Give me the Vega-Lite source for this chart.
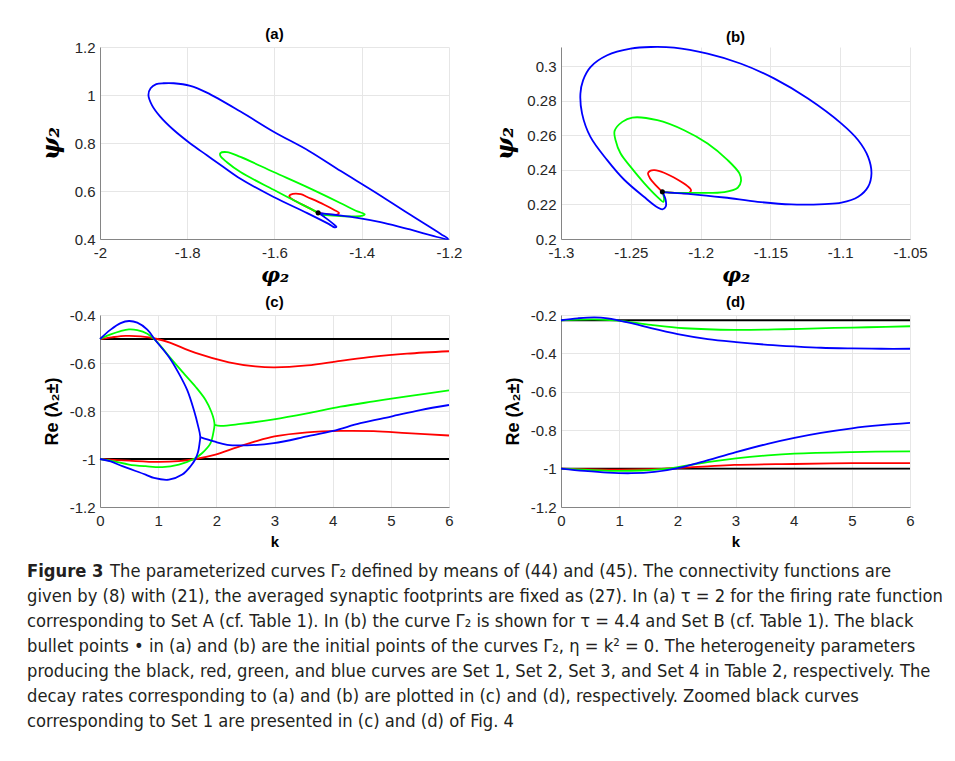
{
"$schema": "https://vega.github.io/schema/vega-lite/v6.json",
"background": "white",
"padding": {"left": 27, "top": 27, "right": 5, "bottom": 5},
"config": {
  "view": {"stroke": null},
  "font": "Liberation Sans",
  "title": {"font": "Liberation Sans", "fontSize": 15, "fontWeight": "bold", "color": "#000000", "offset": -2},
  "axis": {"grid": true, "gridColor": "#e6e6e6", "gridWidth": 1, "domainColor": "#858585", "domainWidth": 1, "ticks": false, "tickCount": 12, "labelFont": "Liberation Sans", "labelFontSize": 15, "labelColor": "#262626", "labelFlush": false, "labelOverlap": false, "titleColor": "#000000"},
  "axisX": {"labelPadding": 6},
  "axisY": {"labelPadding": 5},
  "line": {"strokeWidth": 1.8, "interpolate": "catmull-rom"}
},
"datasets": {
  "a": [
    {"s":"red","g":"r","i":0,"x":-1.500,"y":0.509},{"s":"red","g":"r","i":1,"x":-1.525,"y":0.533},{"s":"red","g":"r","i":2,"x":-1.548,"y":0.554},{"s":"red","g":"r","i":3,"x":-1.563,"y":0.570},{"s":"red","g":"r","i":4,"x":-1.566,"y":0.580},{"s":"red","g":"r","i":5,"x":-1.558,"y":0.588},{"s":"red","g":"r","i":6,"x":-1.540,"y":0.587},{"s":"red","g":"r","i":7,"x":-1.525,"y":0.575},{"s":"red","g":"r","i":8,"x":-1.487,"y":0.544},{"s":"red","g":"r","i":9,"x":-1.464,"y":0.522},{"s":"red","g":"r","i":10,"x":-1.452,"y":0.508},{"s":"red","g":"r","i":11,"x":-1.458,"y":0.501},{"s":"red","g":"r","i":12,"x":-1.487,"y":0.505},{"s":"red","g":"r","i":13,"x":-1.500,"y":0.509},
    {"s":"green","g":"gr","i":0,"x":-1.500,"y":0.509},{"s":"green","g":"gr","i":1,"x":-1.487,"y":0.502},{"s":"green","g":"gr","i":2,"x":-1.456,"y":0.496},{"s":"green","g":"gr","i":3,"x":-1.418,"y":0.494},{"s":"green","g":"gr","i":4,"x":-1.398,"y":0.497},{"s":"green","g":"gr","i":5,"x":-1.393,"y":0.503},{"s":"green","g":"gr","i":6,"x":-1.410,"y":0.515},{"s":"green","g":"gr","i":7,"x":-1.448,"y":0.549},{"s":"green","g":"gr","i":8,"x":-1.525,"y":0.616},{"s":"green","g":"gr","i":9,"x":-1.602,"y":0.679},{"s":"green","g":"gr","i":10,"x":-1.678,"y":0.742},{"s":"green","g":"gr","i":11,"x":-1.709,"y":0.762},{"s":"green","g":"gr","i":12,"x":-1.724,"y":0.758},{"s":"green","g":"gr","i":13,"x":-1.724,"y":0.746},{"s":"green","g":"gr","i":14,"x":-1.709,"y":0.720},{"s":"green","g":"gr","i":15,"x":-1.678,"y":0.679},{"s":"green","g":"gr","i":16,"x":-1.602,"y":0.605},{"s":"green","g":"gr","i":17,"x":-1.525,"y":0.533},{"s":"green","g":"gr","i":18,"x":-1.496,"y":0.506},{"s":"green","g":"gr","i":19,"x":-1.484,"y":0.496},
    {"s":"blue","g":"b","i":0,"x":-1.500,"y":0.509},{"s":"blue","g":"b","i":1,"x":-1.483,"y":0.488},{"s":"blue","g":"b","i":2,"x":-1.468,"y":0.467},{"s":"blue","g":"b","i":3,"x":-1.458,"y":0.451},{"s":"blue","g":"b","i":4,"x":-1.463,"y":0.449},{"s":"blue","g":"b","i":5,"x":-1.475,"y":0.462},{"s":"blue","g":"b","i":6,"x":-1.525,"y":0.508},{"s":"blue","g":"b","i":7,"x":-1.602,"y":0.575},{"s":"blue","g":"b","i":8,"x":-1.678,"y":0.651},{"s":"blue","g":"b","i":9,"x":-1.717,"y":0.700},{"s":"blue","g":"b","i":10,"x":-1.755,"y":0.749},{"s":"blue","g":"b","i":11,"x":-1.793,"y":0.798},{"s":"blue","g":"b","i":12,"x":-1.831,"y":0.854},{"s":"blue","g":"b","i":13,"x":-1.862,"y":0.910},{"s":"blue","g":"b","i":14,"x":-1.881,"y":0.958},{"s":"blue","g":"b","i":15,"x":-1.889,"y":1.000},{"s":"blue","g":"b","i":16,"x":-1.884,"y":1.028},{"s":"blue","g":"b","i":17,"x":-1.871,"y":1.045},{"s":"blue","g":"b","i":18,"x":-1.854,"y":1.049},{"s":"blue","g":"b","i":19,"x":-1.831,"y":1.049},{"s":"blue","g":"b","i":20,"x":-1.793,"y":1.038},{"s":"blue","g":"b","i":21,"x":-1.755,"y":1.010},{"s":"blue","g":"b","i":22,"x":-1.678,"y":0.931},{"s":"blue","g":"b","i":23,"x":-1.602,"y":0.847},{"s":"blue","g":"b","i":24,"x":-1.521,"y":0.767},{"s":"blue","g":"b","i":25,"x":-1.448,"y":0.683},{"s":"blue","g":"b","i":26,"x":-1.372,"y":0.598},{"s":"blue","g":"b","i":27,"x":-1.295,"y":0.508},{"s":"blue","g":"b","i":28,"x":-1.219,"y":0.421},{"s":"blue","g":"b","i":29,"x":-1.202,"y":0.400},{"s":"blue","g":"b","i":30,"x":-1.295,"y":0.442},{"s":"blue","g":"b","i":31,"x":-1.357,"y":0.470},{"s":"blue","g":"b","i":32,"x":-1.410,"y":0.488},{"s":"blue","g":"b","i":33,"x":-1.464,"y":0.501},{"s":"blue","g":"b","i":34,"x":-1.500,"y":0.509}
  ],
  "b": [
    {"s":"red","g":"r","i":0,"x":-1.2274,"y":0.2273},{"s":"red","g":"r","i":1,"x":-1.2322,"y":0.2312},{"s":"red","g":"r","i":2,"x":-1.2362,"y":0.2350},{"s":"red","g":"r","i":3,"x":-1.2377,"y":0.2379},{"s":"red","g":"r","i":4,"x":-1.2362,"y":0.2394},{"s":"red","g":"r","i":5,"x":-1.2329,"y":0.2398},{"s":"red","g":"r","i":6,"x":-1.2262,"y":0.2383},{"s":"red","g":"r","i":7,"x":-1.2166,"y":0.2344},{"s":"red","g":"r","i":8,"x":-1.2094,"y":0.2306},{"s":"red","g":"r","i":9,"x":-1.2068,"y":0.2283},{"s":"red","g":"r","i":10,"x":-1.2082,"y":0.2267},{"s":"red","g":"r","i":11,"x":-1.2166,"y":0.2267},{"s":"red","g":"r","i":12,"x":-1.2274,"y":0.2273},
    {"s":"green","g":"gr","i":0,"x":-1.2274,"y":0.2273},{"s":"green","g":"gr","i":1,"x":-1.2166,"y":0.2267},{"s":"green","g":"gr","i":2,"x":-1.2070,"y":0.2267},{"s":"green","g":"gr","i":3,"x":-1.1830,"y":0.2271},{"s":"green","g":"gr","i":4,"x":-1.1734,"y":0.2296},{"s":"green","g":"gr","i":5,"x":-1.1710,"y":0.2337},{"s":"green","g":"gr","i":6,"x":-1.1722,"y":0.2379},{"s":"green","g":"gr","i":7,"x":-1.1806,"y":0.2456},{"s":"green","g":"gr","i":8,"x":-1.1950,"y":0.2552},{"s":"green","g":"gr","i":9,"x":-1.2118,"y":0.2629},{"s":"green","g":"gr","i":10,"x":-1.2310,"y":0.2687},{"s":"green","g":"gr","i":11,"x":-1.2489,"y":0.2702},{"s":"green","g":"gr","i":12,"x":-1.2561,"y":0.2677},{"s":"green","g":"gr","i":13,"x":-1.2616,"y":0.2625},{"s":"green","g":"gr","i":14,"x":-1.2609,"y":0.2571},{"s":"green","g":"gr","i":15,"x":-1.2573,"y":0.2494},{"s":"green","g":"gr","i":16,"x":-1.2501,"y":0.2417},{"s":"green","g":"gr","i":17,"x":-1.2406,"y":0.2325},{"s":"green","g":"gr","i":18,"x":-1.2310,"y":0.2244},{"s":"green","g":"gr","i":19,"x":-1.2267,"y":0.2215},{"s":"green","g":"gr","i":20,"x":-1.2262,"y":0.2235},{"s":"green","g":"gr","i":21,"x":-1.2274,"y":0.2273},
    {"s":"blue","g":"b","i":0,"x":-1.2274,"y":0.2273},{"s":"blue","g":"b","i":1,"x":-1.2250,"y":0.2225},{"s":"blue","g":"b","i":2,"x":-1.2250,"y":0.2187},{"s":"blue","g":"b","i":3,"x":-1.2274,"y":0.2171},{"s":"blue","g":"b","i":4,"x":-1.2310,"y":0.2183},{"s":"blue","g":"b","i":5,"x":-1.2406,"y":0.2244},{"s":"blue","g":"b","i":6,"x":-1.2549,"y":0.2344},{"s":"blue","g":"b","i":7,"x":-1.2669,"y":0.2456},{"s":"blue","g":"b","i":8,"x":-1.2789,"y":0.2590},{"s":"blue","g":"b","i":9,"x":-1.2849,"y":0.2725},{"s":"blue","g":"b","i":10,"x":-1.2861,"y":0.2840},{"s":"blue","g":"b","i":11,"x":-1.2842,"y":0.2917},{"s":"blue","g":"b","i":12,"x":-1.2789,"y":0.2994},{"s":"blue","g":"b","i":13,"x":-1.2669,"y":0.3062},{"s":"blue","g":"b","i":14,"x":-1.2501,"y":0.3100},{"s":"blue","g":"b","i":15,"x":-1.2358,"y":0.3110},{"s":"blue","g":"b","i":16,"x":-1.2190,"y":0.3106},{"s":"blue","g":"b","i":17,"x":-1.1950,"y":0.3071},{"s":"blue","g":"b","i":18,"x":-1.1710,"y":0.3013},{"s":"blue","g":"b","i":19,"x":-1.1471,"y":0.2927},{"s":"blue","g":"b","i":20,"x":-1.1231,"y":0.2812},{"s":"blue","g":"b","i":21,"x":-1.0991,"y":0.2667},{"s":"blue","g":"b","i":22,"x":-1.0871,"y":0.2571},{"s":"blue","g":"b","i":23,"x":-1.0800,"y":0.2475},{"s":"blue","g":"b","i":24,"x":-1.0776,"y":0.2379},{"s":"blue","g":"b","i":25,"x":-1.0800,"y":0.2302},{"s":"blue","g":"b","i":26,"x":-1.0871,"y":0.2244},{"s":"blue","g":"b","i":27,"x":-1.0991,"y":0.2210},{"s":"blue","g":"b","i":28,"x":-1.1111,"y":0.2202},{"s":"blue","g":"b","i":29,"x":-1.1351,"y":0.2200},{"s":"blue","g":"b","i":30,"x":-1.1591,"y":0.2215},{"s":"blue","g":"b","i":31,"x":-1.1830,"y":0.2240},{"s":"blue","g":"b","i":32,"x":-1.2070,"y":0.2260},{"s":"blue","g":"b","i":33,"x":-1.2238,"y":0.2269},{"s":"blue","g":"b","i":34,"x":-1.2274,"y":0.2273}
  ],
  "c": [
    {"s":"black","g":"k1","i":0,"x":0,"y":-0.5},{"s":"black","g":"k1","i":1,"x":6,"y":-0.5},
    {"s":"black","g":"k2","i":0,"x":0,"y":-1},{"s":"black","g":"k2","i":1,"x":6,"y":-1},
    {"s":"red","g":"r1","i":0,"x":0,"y":-0.5},{"s":"red","g":"r1","i":1,"x":0.2,"y":-0.493},{"s":"red","g":"r1","i":2,"x":0.44,"y":-0.487},{"s":"red","g":"r1","i":3,"x":0.7,"y":-0.489},{"s":"red","g":"r1","i":4,"x":0.985,"y":-0.5},{"s":"red","g":"r1","i":5,"x":1.2,"y":-0.515},{"s":"red","g":"r1","i":6,"x":1.643,"y":-0.558},{"s":"red","g":"r1","i":7,"x":2.216,"y":-0.597},{"s":"red","g":"r1","i":8,"x":2.67,"y":-0.614},{"s":"red","g":"r1","i":9,"x":3.0,"y":-0.618},{"s":"red","g":"r1","i":10,"x":3.561,"y":-0.610},{"s":"red","g":"r1","i":11,"x":4.134,"y":-0.591},{"s":"red","g":"r1","i":12,"x":4.706,"y":-0.573},{"s":"red","g":"r1","i":13,"x":5.278,"y":-0.561},{"s":"red","g":"r1","i":14,"x":6,"y":-0.551},
    {"s":"red","g":"r2","i":0,"x":0,"y":-1},{"s":"red","g":"r2","i":1,"x":0.5,"y":-1.007},{"s":"red","g":"r2","i":2,"x":1.0,"y":-1.012},{"s":"red","g":"r2","i":3,"x":1.35,"y":-1.009},{"s":"red","g":"r2","i":4,"x":1.643,"y":-1.0},{"s":"red","g":"r2","i":5,"x":1.95,"y":-0.984},{"s":"red","g":"r2","i":6,"x":2.25,"y":-0.96},{"s":"red","g":"r2","i":7,"x":2.67,"y":-0.927},{"s":"red","g":"r2","i":8,"x":3.0,"y":-0.906},{"s":"red","g":"r2","i":9,"x":3.561,"y":-0.889},{"s":"red","g":"r2","i":10,"x":4.134,"y":-0.883},{"s":"red","g":"r2","i":11,"x":4.706,"y":-0.884},{"s":"red","g":"r2","i":12,"x":5.278,"y":-0.892},{"s":"red","g":"r2","i":13,"x":6,"y":-0.902},
    {"s":"green","g":"g1","i":0,"x":0,"y":-0.5},{"s":"green","g":"g1","i":1,"x":0.183,"y":-0.481},{"s":"green","g":"g1","i":2,"x":0.355,"y":-0.467},{"s":"green","g":"g1","i":3,"x":0.498,"y":-0.460},{"s":"green","g":"g1","i":4,"x":0.641,"y":-0.463},{"s":"green","g":"g1","i":5,"x":0.813,"y":-0.478},{"s":"green","g":"g1","i":6,"x":0.956,"y":-0.506},{"s":"green","g":"g1","i":7,"x":1.242,"y":-0.588},{"s":"green","g":"g1","i":8,"x":1.443,"y":-0.644},{"s":"green","g":"g1","i":9,"x":1.643,"y":-0.699},{"s":"green","g":"g1","i":10,"x":1.815,"y":-0.754},{"s":"green","g":"g1","i":11,"x":1.912,"y":-0.802},{"s":"green","g":"g1","i":12,"x":1.958,"y":-0.837},{"s":"green","g":"g1","i":13,"x":1.969,"y":-0.858},{"s":"green","g":"g1","i":14,"x":1.947,"y":-0.892},{"s":"green","g":"g1","i":15,"x":1.901,"y":-0.934},{"s":"green","g":"g1","i":16,"x":1.758,"y":-0.975},{"s":"green","g":"g1","i":17,"x":1.614,"y":-1.0},{"s":"green","g":"g1","i":18,"x":1.357,"y":-1.023},{"s":"green","g":"g1","i":19,"x":1.071,"y":-1.034},{"s":"green","g":"g1","i":20,"x":0.784,"y":-1.030},{"s":"green","g":"g1","i":21,"x":0.498,"y":-1.023},{"s":"green","g":"g1","i":22,"x":0.240,"y":-1.010},{"s":"green","g":"g1","i":23,"x":0,"y":-1.0},
    {"s":"green","g":"g2","i":0,"x":1.969,"y":-0.858},{"s":"green","g":"g2","i":1,"x":2.072,"y":-0.862},{"s":"green","g":"g2","i":2,"x":2.416,"y":-0.854},{"s":"green","g":"g2","i":3,"x":2.988,"y":-0.835},{"s":"green","g":"g2","i":4,"x":3.561,"y":-0.810},{"s":"green","g":"g2","i":5,"x":4.134,"y":-0.782},{"s":"green","g":"g2","i":6,"x":4.706,"y":-0.760},{"s":"green","g":"g2","i":7,"x":5.278,"y":-0.739},{"s":"green","g":"g2","i":8,"x":6,"y":-0.714},
    {"s":"blue","g":"b1","i":0,"x":0,"y":-0.5},{"s":"blue","g":"b1","i":1,"x":0.183,"y":-0.461},{"s":"blue","g":"b1","i":2,"x":0.355,"y":-0.434},{"s":"blue","g":"b1","i":3,"x":0.498,"y":-0.425},{"s":"blue","g":"b1","i":4,"x":0.641,"y":-0.432},{"s":"blue","g":"b1","i":5,"x":0.813,"y":-0.461},{"s":"blue","g":"b1","i":6,"x":0.956,"y":-0.506},{"s":"blue","g":"b1","i":7,"x":1.185,"y":-0.575},{"s":"blue","g":"b1","i":8,"x":1.357,"y":-0.644},{"s":"blue","g":"b1","i":9,"x":1.500,"y":-0.713},{"s":"blue","g":"b1","i":10,"x":1.614,"y":-0.796},{"s":"blue","g":"b1","i":11,"x":1.689,"y":-0.865},{"s":"blue","g":"b1","i":12,"x":1.723,"y":-0.906},{"s":"blue","g":"b1","i":13,"x":1.712,"y":-0.934},{"s":"blue","g":"b1","i":14,"x":1.689,"y":-0.968},{"s":"blue","g":"b1","i":15,"x":1.643,"y":-0.999},{"s":"blue","g":"b1","i":16,"x":1.557,"y":-1.030},{"s":"blue","g":"b1","i":17,"x":1.414,"y":-1.065},{"s":"blue","g":"b1","i":18,"x":1.185,"y":-1.086},{"s":"blue","g":"b1","i":19,"x":0.927,"y":-1.079},{"s":"blue","g":"b1","i":20,"x":0.784,"y":-1.065},{"s":"blue","g":"b1","i":21,"x":0.384,"y":-1.030},{"s":"blue","g":"b1","i":22,"x":0.183,"y":-1.010},{"s":"blue","g":"b1","i":23,"x":0,"y":-1.0},
    {"s":"blue","g":"b2","i":0,"x":1.723,"y":-0.909},{"s":"blue","g":"b2","i":1,"x":1.958,"y":-0.927},{"s":"blue","g":"b2","i":2,"x":2.187,"y":-0.941},{"s":"blue","g":"b2","i":3,"x":2.530,"y":-0.943},{"s":"blue","g":"b2","i":4,"x":2.988,"y":-0.934},{"s":"blue","g":"b2","i":5,"x":3.561,"y":-0.906},{"s":"blue","g":"b2","i":6,"x":4.008,"y":-0.883},{"s":"blue","g":"b2","i":7,"x":4.477,"y":-0.851},{"s":"blue","g":"b2","i":8,"x":5.004,"y":-0.823},{"s":"blue","g":"b2","i":9,"x":5.507,"y":-0.796},{"s":"blue","g":"b2","i":10,"x":6,"y":-0.775}
  ],
  "d": [
    {"s":"black","g":"k1","i":0,"x":0,"y":-0.2273},{"s":"black","g":"k1","i":1,"x":6,"y":-0.2273},
    {"s":"black","g":"k2","i":0,"x":0,"y":-1},{"s":"black","g":"k2","i":1,"x":6,"y":-1},
    {"s":"red","g":"r2","i":0,"x":0,"y":-1},{"s":"red","g":"r2","i":1,"x":0.974,"y":-1.005},{"s":"red","g":"r2","i":2,"x":1.547,"y":-1.003},{"s":"red","g":"r2","i":3,"x":2.006,"y":-0.997},{"s":"red","g":"r2","i":4,"x":2.522,"y":-0.988},{"s":"red","g":"r2","i":5,"x":2.980,"y":-0.981},{"s":"red","g":"r2","i":6,"x":4.012,"y":-0.976},{"s":"red","g":"r2","i":7,"x":5.003,"y":-0.972},{"s":"red","g":"r2","i":8,"x":6,"y":-0.971},
    {"s":"green","g":"g1","i":0,"x":0,"y":-0.2273},{"s":"green","g":"g1","i":1,"x":0.573,"y":-0.2224},{"s":"green","g":"g1","i":2,"x":0.974,"y":-0.2293},{"s":"green","g":"g1","i":3,"x":1.547,"y":-0.2517},{"s":"green","g":"g1","i":4,"x":2.120,"y":-0.2690},{"s":"green","g":"g1","i":5,"x":2.980,"y":-0.2776},{"s":"green","g":"g1","i":6,"x":3.840,"y":-0.2741},{"s":"green","g":"g1","i":7,"x":4.699,"y":-0.2672},{"s":"green","g":"g1","i":8,"x":5.273,"y":-0.2638},{"s":"green","g":"g1","i":9,"x":6,"y":-0.2586},
    {"s":"green","g":"g2","i":0,"x":0,"y":-1},{"s":"green","g":"g2","i":1,"x":0.458,"y":-1.007},{"s":"green","g":"g2","i":2,"x":0.917,"y":-1.012},{"s":"green","g":"g2","i":3,"x":1.375,"y":-1.010},{"s":"green","g":"g2","i":4,"x":1.834,"y":-1.0},{"s":"green","g":"g2","i":5,"x":2.178,"y":-0.983},{"s":"green","g":"g2","i":6,"x":2.579,"y":-0.964},{"s":"green","g":"g2","i":7,"x":3.009,"y":-0.947},{"s":"green","g":"g2","i":8,"x":3.553,"y":-0.931},{"s":"green","g":"g2","i":9,"x":4.012,"y":-0.922},{"s":"green","g":"g2","i":10,"x":5.003,"y":-0.914},{"s":"green","g":"g2","i":11,"x":6,"y":-0.910},
    {"s":"blue","g":"b1","i":0,"x":0,"y":-0.2273},{"s":"blue","g":"b1","i":1,"x":0.287,"y":-0.2172},{"s":"blue","g":"b1","i":2,"x":0.573,"y":-0.2121},{"s":"blue","g":"b1","i":3,"x":0.802,"y":-0.2172},{"s":"blue","g":"b1","i":4,"x":1.003,"y":-0.2293},{"s":"blue","g":"b1","i":5,"x":1.261,"y":-0.2466},{"s":"blue","g":"b1","i":6,"x":1.547,"y":-0.2690},{"s":"blue","g":"b1","i":7,"x":2.006,"y":-0.3000},{"s":"blue","g":"b1","i":8,"x":2.522,"y":-0.3259},{"s":"blue","g":"b1","i":9,"x":3.009,"y":-0.3414},{"s":"blue","g":"b1","i":10,"x":3.553,"y":-0.3552},{"s":"blue","g":"b1","i":11,"x":4.012,"y":-0.3638},{"s":"blue","g":"b1","i":12,"x":4.470,"y":-0.3707},{"s":"blue","g":"b1","i":13,"x":5.003,"y":-0.3741},{"s":"blue","g":"b1","i":14,"x":5.502,"y":-0.3758},{"s":"blue","g":"b1","i":15,"x":6,"y":-0.3758},
    {"s":"blue","g":"b2","i":0,"x":0,"y":-1},{"s":"blue","g":"b2","i":1,"x":0.401,"y":-1.012},{"s":"blue","g":"b2","i":2,"x":0.802,"y":-1.021},{"s":"blue","g":"b2","i":3,"x":1.204,"y":-1.024},{"s":"blue","g":"b2","i":4,"x":1.605,"y":-1.017},{"s":"blue","g":"b2","i":5,"x":2.006,"y":-0.997},{"s":"blue","g":"b2","i":6,"x":2.407,"y":-0.966},{"s":"blue","g":"b2","i":7,"x":3.009,"y":-0.914},{"s":"blue","g":"b2","i":8,"x":3.553,"y":-0.871},{"s":"blue","g":"b2","i":9,"x":4.012,"y":-0.840},{"s":"blue","g":"b2","i":10,"x":4.470,"y":-0.814},{"s":"blue","g":"b2","i":11,"x":5.003,"y":-0.790},{"s":"blue","g":"b2","i":12,"x":5.502,"y":-0.774},{"s":"blue","g":"b2","i":13,"x":6,"y":-0.762}
  ],
  "dots": [
    {"p":"a","x":-1.5,"y":0.509},
    {"p":"b","x":-1.2274,"y":0.2273}
  ],
  "caption": [
    {"line":1,"part":"head","t":"Figure 3"},
    {"line":1,"part":"first","t":"The parameterized curves Γ₂ defined by means of (44) and (45). The connectivity functions are"},
    {"line":2,"part":"body","t":"given by (8) with (21), the averaged synaptic footprints are fixed as (27). In (a) τ = 2 for the firing rate function"},
    {"line":3,"part":"body","t":"corresponding to Set A (cf. Table 1). In (b) the curve Γ₂ is shown for τ = 4.4 and Set B (cf. Table 1). The black"},
    {"line":4,"part":"body","t":"bullet points • in (a) and (b) are the initial points of the curves Γ₂, η = k² = 0. The heterogeneity parameters"},
    {"line":5,"part":"body","t":"producing the black, red, green, and blue curves are Set 1, Set 2, Set 3, and Set 4 in Table 2, respectively. The"},
    {"line":6,"part":"body","t":"decay rates corresponding to (a) and (b) are plotted in (c) and (d), respectively. Zoomed black curves"},
    {"line":7,"part":"body","t":"corresponding to Set 1 are presented in (c) and (d) of Fig. 4"}
  ]
},
"vconcat": [
  {
    "columns": 2,
    "bounds": "flush",
    "spacing": {"row": 76, "column": 112},
    "concat": [
      {
        "width": 349, "height": 192,
        "title": "(a)",
        "layer": [
          {
            "data": {"name": "a"},
            "mark": {"type": "line"},
            "encoding": {
              "x": {"field": "x", "type": "quantitative", "scale": {"domain": [-2, -1.2], "nice": false, "zero": false},
                    "axis": {"values": [-2, -1.8, -1.6, -1.4, -1.2], "labelExpr": "toString(datum.value)", "title": "φ₂", "titleFont": "DejaVu Serif", "titleFontStyle": "italic", "titleFontWeight": "bold", "titleFontSize": 21, "titlePadding": 4}},
              "y": {"field": "y", "type": "quantitative", "scale": {"domain": [0.4, 1.2], "nice": false, "zero": false},
                    "axis": {"values": [0.4, 0.6, 0.8, 1, 1.2], "labelExpr": "toString(datum.value)", "title": "ψ₂", "titleFont": "DejaVu Serif", "titleFontStyle": "italic", "titleFontWeight": "bold", "titleFontSize": 24, "titlePadding": 11}},
              "color": {"field": "s", "type": "nominal", "scale": {"domain": ["black", "red", "green", "blue"], "range": ["#000000", "#ff0000", "#00ff00", "#0000ff"]}, "legend": null},
              "detail": {"field": "g"},
              "order": {"field": "i", "type": "quantitative"}
            }
          },
          {
            "data": {"name": "dots"},
            "transform": [{"filter": "datum.p == 'a'"}],
            "mark": {"type": "point", "filled": true, "color": "#000000", "size": 26, "opacity": 1},
            "encoding": {"x": {"field": "x", "type": "quantitative"}, "y": {"field": "y", "type": "quantitative"}}
          }
        ]
      },
      {
        "width": 349, "height": 192,
        "title": "(b)",
        "layer": [
          {
            "data": {"name": "b"},
            "mark": {"type": "line"},
            "encoding": {
              "x": {"field": "x", "type": "quantitative", "scale": {"domain": [-1.3, -1.05], "nice": false, "zero": false},
                    "axis": {"values": [-1.3, -1.25, -1.2, -1.15, -1.1, -1.05], "labelExpr": "toString(datum.value)", "title": "φ₂", "titleFont": "DejaVu Serif", "titleFontStyle": "italic", "titleFontWeight": "bold", "titleFontSize": 21, "titlePadding": 4}},
              "y": {"field": "y", "type": "quantitative", "scale": {"domain": [0.2, 0.311], "nice": false, "zero": false},
                    "axis": {"values": [0.2, 0.22, 0.24, 0.26, 0.28, 0.3], "labelExpr": "toString(datum.value)", "title": "ψ₂", "titleFont": "DejaVu Serif", "titleFontStyle": "italic", "titleFontWeight": "bold", "titleFontSize": 24, "titlePadding": 9}},
              "color": {"field": "s", "type": "nominal", "scale": {"domain": ["black", "red", "green", "blue"], "range": ["#000000", "#ff0000", "#00ff00", "#0000ff"]}, "legend": null},
              "detail": {"field": "g"},
              "order": {"field": "i", "type": "quantitative"}
            }
          },
          {
            "data": {"name": "dots"},
            "transform": [{"filter": "datum.p == 'b'"}],
            "mark": {"type": "point", "filled": true, "color": "#000000", "size": 26, "opacity": 1},
            "encoding": {"x": {"field": "x", "type": "quantitative"}, "y": {"field": "y", "type": "quantitative"}}
          }
        ]
      },
      {
        "width": 349, "height": 192,
        "title": "(c)",
        "data": {"name": "c"},
        "mark": {"type": "line"},
        "encoding": {
          "x": {"field": "x", "type": "quantitative", "scale": {"domain": [0, 6], "nice": false, "zero": false},
                "axis": {"values": [0, 1, 2, 3, 4, 5, 6], "labelExpr": "toString(datum.value)", "title": "k", "titleFont": "Liberation Sans", "titleFontWeight": "bold", "titleFontSize": 15, "titlePadding": 6}},
          "y": {"field": "y", "type": "quantitative", "scale": {"domain": [-1.2, -0.4], "nice": false, "zero": false},
                "axis": {"values": [-1.2, -1, -0.8, -0.6, -0.4], "labelExpr": "toString(datum.value)", "title": "Re (λ₂±)", "titleFont": "Liberation Sans", "titleFontWeight": "bold", "titleFontSize": 18, "titlePadding": 8}},
          "color": {"field": "s", "type": "nominal", "scale": {"domain": ["black", "red", "green", "blue"], "range": ["#000000", "#ff0000", "#00ff00", "#0000ff"]}, "legend": null},
          "detail": {"field": "g"},
          "order": {"field": "i", "type": "quantitative"}
        }
      },
      {
        "width": 349, "height": 192,
        "title": "(d)",
        "data": {"name": "d"},
        "mark": {"type": "line"},
        "encoding": {
          "x": {"field": "x", "type": "quantitative", "scale": {"domain": [0, 6], "nice": false, "zero": false},
                "axis": {"values": [0, 1, 2, 3, 4, 5, 6], "labelExpr": "toString(datum.value)", "title": "k", "titleFont": "Liberation Sans", "titleFontWeight": "bold", "titleFontSize": 15, "titlePadding": 6}},
          "y": {"field": "y", "type": "quantitative", "scale": {"domain": [-1.2, -0.2], "nice": false, "zero": false},
                "axis": {"values": [-1.2, -1, -0.8, -0.6, -0.4, -0.2], "labelExpr": "toString(datum.value)", "title": "Re (λ₂±)", "titleFont": "Liberation Sans", "titleFontWeight": "bold", "titleFontSize": 18, "titlePadding": 8}},
          "color": {"field": "s", "type": "nominal", "scale": {"domain": ["black", "red", "green", "blue"], "range": ["#000000", "#ff0000", "#00ff00", "#0000ff"]}, "legend": null},
          "detail": {"field": "g"},
          "order": {"field": "i", "type": "quantitative"}
        }
      }
    ]
  },
  {
    "width": 820, "height": 150,
    "data": {"name": "caption"},
    "encoding": {
      "x": {"datum": 0, "type": "quantitative", "scale": {"domain": [0.0817, 1], "nice": false, "zero": false}, "axis": null},
      "y": {"field": "line", "type": "quantitative", "scale": {"domain": [1, 7], "reverse": true, "nice": false, "zero": false}, "axis": null},
      "text": {"field": "t"}
    },
    "layer": [
      {"transform": [{"filter": "datum.part == 'head'"}], "mark": {"type": "text", "align": "left", "baseline": "alphabetic", "font": "DejaVu Sans Condensed", "fontSize": 18.2, "fontWeight": "bold", "color": "#231f20"}},
      {"transform": [{"filter": "datum.part == 'first'"}], "mark": {"type": "text", "align": "left", "baseline": "alphabetic", "dx": 83, "font": "DejaVu Sans Condensed", "fontSize": 18.2, "color": "#231f20"}},
      {"transform": [{"filter": "datum.part == 'body'"}], "mark": {"type": "text", "align": "left", "baseline": "alphabetic", "font": "DejaVu Sans Condensed", "fontSize": 18.2, "color": "#231f20"}}
    ]
  }
],
"spacing": 13
}
